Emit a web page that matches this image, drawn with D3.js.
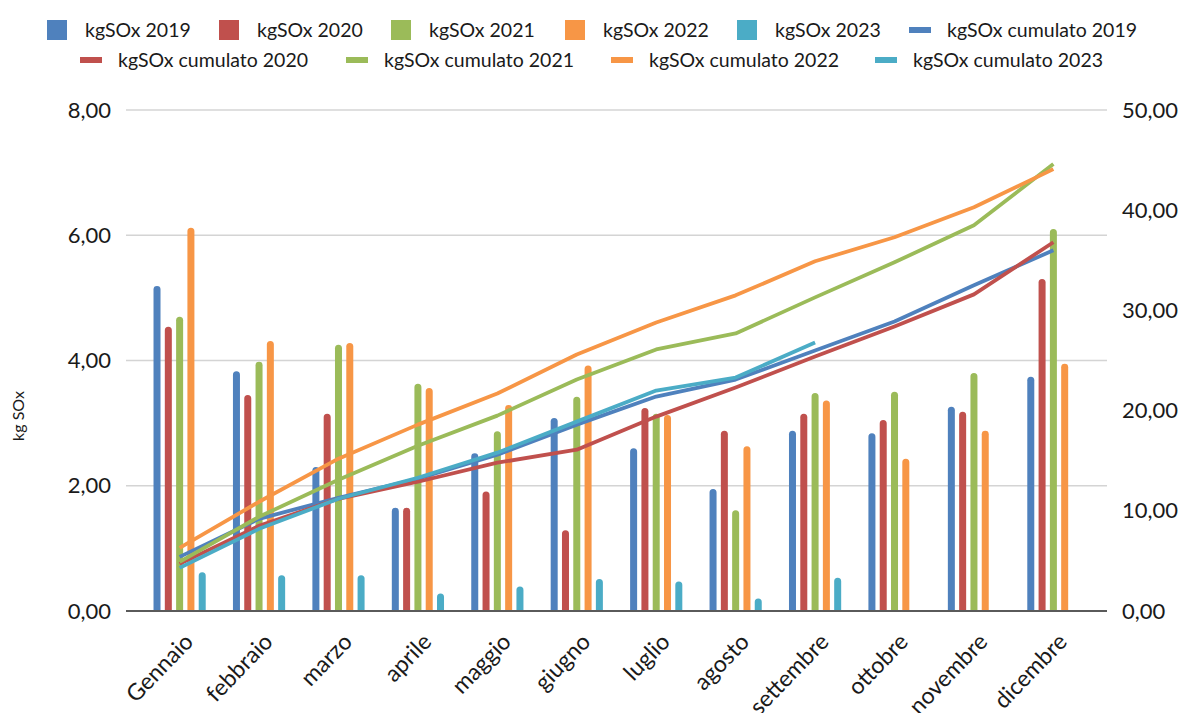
<!DOCTYPE html>
<html><head><meta charset="utf-8">
<script src="https://cdn.jsdelivr.net/npm/d3@7"></script>
<style>body{margin:0;background:#fff}svg{display:block}text{font-family:Lato,"Noto Sans",sans-serif;fill:#1a1a1a}</style>
</head><body>
<svg id="c" width="1183" height="713"></svg>
<script>
const months = ["Gennaio","febbraio","marzo","aprile","maggio","giugno","luglio","agosto","settembre","ottobre","novembre","dicembre"];
const barNames = ["kgSOx 2019","kgSOx 2020","kgSOx 2021","kgSOx 2022","kgSOx 2023"];
const lineNames = ["kgSOx cumulato 2019","kgSOx cumulato 2020","kgSOx cumulato 2021","kgSOx cumulato 2022","kgSOx cumulato 2023"];
const colors = ["#4F81BD","#C0504D","#9BBB59","#F79646","#4BACC6"];
const kg2019 = [5.19,3.83,2.30,1.65,2.52,3.08,2.60,1.95,2.88,2.84,3.26,3.74];
const kg2020 = [4.54,3.45,3.15,1.65,1.91,1.29,3.24,2.88,3.15,3.05,3.18,5.30];
const kg2021 = [4.70,3.98,4.25,3.63,2.87,3.42,3.15,1.61,3.48,3.50,3.80,6.10];
const kg2022 = [6.12,4.31,4.28,3.56,3.29,3.92,3.13,2.63,3.36,2.43,2.88,3.95];
const kg2023 = [0.62,0.57,0.57,0.28,0.39,0.51,0.47,0.20,0.53,null,null,null];
const cum2019 = [5.4,9.2,11.3,13.2,15.6,18.6,21.4,23.1,26.0,28.9,32.5,36.0];
const cum2020 = [4.7,8.5,11.2,12.9,14.8,16.1,19.4,22.3,25.4,28.4,31.6,36.8];
const cum2021 = [4.9,9.4,13.1,16.5,19.5,23.1,26.1,27.7,31.3,34.8,38.5,44.6];
const cum2022 = [6.3,10.9,15.2,18.6,21.7,25.6,28.8,31.5,34.9,37.3,40.3,44.1];
const cum2023 = [4.3,8.2,11.2,13.3,15.8,18.9,22.0,23.3,26.8,null,null,null];
const leftTicks = [0,2,4,6,8];
const rightTicks = [0,10,20,30,40,50];

const barSeries = [kg2019,kg2020,kg2021,kg2022,kg2023];
const lineSeries = [cum2019,cum2020,cum2021,cum2022,cum2023];
const fmt = v => d3.format(".2f")(v).replace(".", ",");

const svg = d3.select("#c");
const L = 126, R = 1107, T = 110, B = 611;
const x = d3.scalePoint().domain(months).range([L, R]).padding(0.675);
const xs = d3.scaleBand().domain(d3.range(5)).range([-26.1, 26.1]).paddingInner(0.38).paddingOuter(0);
const yL = d3.scaleLinear().domain([0, 8]).range([B, T]);
const yR = d3.scaleLinear().domain([0, 50]).range([B, T]);

// gridlines
svg.append("g").selectAll("line").data(leftTicks.filter(d => d > 0)).join("line")
  .attr("x1", L).attr("x2", R).attr("y1", d => yL(d)).attr("y2", d => yL(d))
  .attr("stroke", "#d4d4d4").attr("stroke-width", 1.6);

// left axis
const gl = svg.append("g").attr("transform", `translate(${L},0)`)
  .call(d3.axisLeft(yL).tickValues(leftTicks).tickFormat(fmt).tickSize(0).tickPadding(15));
gl.select(".domain").remove();
gl.selectAll("text").style("font-size", "22px").style("font-family", "Lato").attr("fill", "#1a1a1a");

// right axis
const gr = svg.append("g").attr("transform", `translate(${R},0)`)
  .call(d3.axisRight(yR).tickValues(rightTicks).tickFormat(fmt).tickSize(0).tickPadding(15));
gr.select(".domain").remove();
gr.selectAll("text").style("font-size", "22px").style("font-family", "Lato").attr("fill", "#1a1a1a");

// bars
const barsG = svg.append("g");
barSeries.forEach((arr, si) => {
  barsG.append("g").selectAll("path").data(arr.map((v, i) => ({v, m: months[i]})).filter(d => d.v != null)).join("path")
    .attr("fill", colors[si])
    .attr("d", d => {
      const x0 = x(d.m) + xs(si), w = xs.bandwidth(), yt = yL(d.v), r = w / 2;
      return `M${x0},${B}V${yt + r}A${r},${r} 0 0 1 ${x0 + w},${yt + r}V${B}Z`;
    });
});

// x axis line
svg.append("line").attr("x1", L).attr("x2", R).attr("y1", B).attr("y2", B)
  .attr("stroke", "#5a5a5a").attr("stroke-width", 2);

// lines
const lineGen = d3.line().defined(d => d.v != null).x(d => x(d.m)).y(d => yR(d.v));
lineSeries.forEach((arr, si) => {
  svg.append("path").datum(arr.map((v, i) => ({v, m: months[i]})))
    .attr("fill", "none").attr("stroke", colors[si]).attr("stroke-width", 3.8)
    .attr("stroke-linejoin", "round").attr("d", lineGen);
});

// x labels
svg.append("g").selectAll("text").data(months).join("text")
  .attr("transform", d => `translate(${x(d) + 15},${643}) rotate(-46)`)
  .attr("text-anchor", "end").style("font-size", "23px").text(d => d);

// y title
svg.append("text").attr("transform", "translate(24,416) rotate(-90)")
  .attr("text-anchor", "middle").style("font-size", "16px").text("kg SOx");

// legend
const leg = svg.append("g").style("font-size", "19.5px");
const row1 = [47, 219, 391, 565, 737];
barNames.forEach((n, i) => {
  leg.append("rect").attr("x", row1[i]).attr("y", 20).attr("width", 20).attr("height", 20).attr("fill", colors[i]);
  leg.append("text").attr("x", row1[i] + 38).attr("y", 37).text(n);
});
const lineX = [909, 80, 346, 611, 875];
const lineY = [30, 60, 60, 60, 60];
lineNames.forEach((n, i) => {
  leg.append("rect").attr("x", lineX[i]).attr("y", lineY[i] - 3).attr("width", 22).attr("height", 6).attr("fill", colors[i]);
  leg.append("text").attr("x", lineX[i] + 38).attr("y", lineY[i] + 7).text(n);
});
</script>
</body></html>
